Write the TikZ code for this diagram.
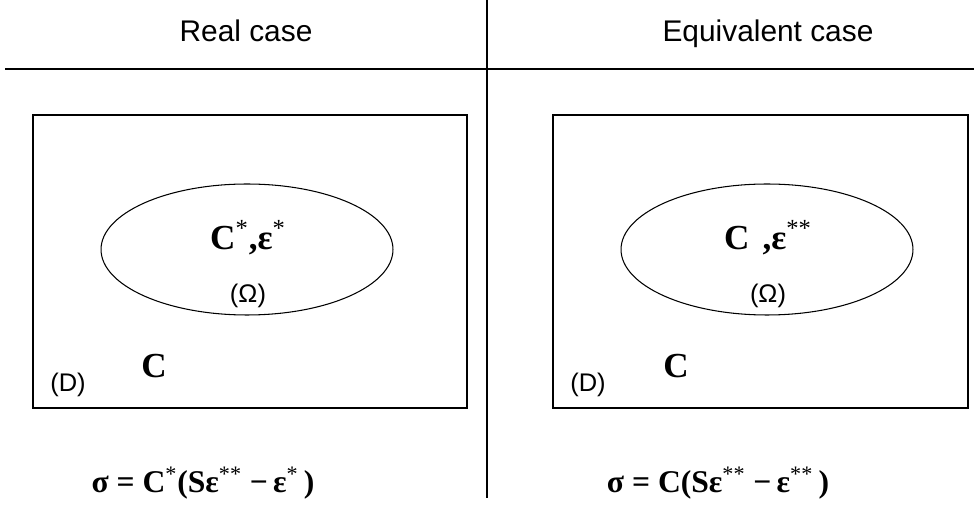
\documentclass[tikz,border=0pt]{standalone}
\usepackage{fontspec}
\setmainfont{Liberation Sans}
\newfontfamily\tnr{Liberation Serif}
\usetikzlibrary{shapes.geometric}
\newcommand\starup[1]{\textsuperscript{\mdseries #1}}
\tikzset{
  heading/.style={anchor=base, font=\fontsize{17}{20}\selectfont},
  region/.style={anchor=base, font=\fontsize{14.5}{17}\selectfont},
  sym/.style={anchor=base, font=\tnr\bfseries\fontsize{20}{24}\selectfont},
  formula/.style={anchor=base, font=\tnr\bfseries\fontsize{18}{22}\selectfont},
  inclusion/.style={draw, ellipse, line width=0.6pt, inner sep=0pt,
    minimum width=5.84cm, minimum height=2.62cm},
  bodybox/.style={draw, line width=0.6pt}
}
\begin{document}
\begin{tikzpicture}[x=0.02cm,y=-0.02cm]
  % Define dimensions
  \def\pagew{974}
  \def\pageh{506}
  \def\midx{487}
  \useasboundingbox (0,0) rectangle (\pagew,\pageh);
  % Draw the table lines
  \draw[line width=1.1pt] (5,69) -- (\pagew,69);
  \draw[line width=0.6pt] (\midx,0) -- (\midx,498);
  % Draw the real case on the left
  \node[heading] (realhead) at (246,42) {Real case};
  \draw[bodybox] (33,115) rectangle (467,408);
  \node[inclusion] (realincl) at (247,249.5) {};
  \node[sym] (realprop) at (248,250) {C\starup{*},ε\starup{*}};
  \node[region] (realomega) at (248,303) {(Ω)};
  \node[region] (realdom) at (68,392) {(D)};
  \node[sym] (realmat) at (154,378) {C};
  \node[formula] (reallaw) at (203,493)
    {σ = C\starup{*}(Sε\starup{**}\ −\,ε\starup{*}\,)};
  % Draw the equivalent case on the right
  \node[heading] (eqhead) at (768,42) {Equivalent case};
  \draw[bodybox] (553,115) rectangle (968,408);
  \node[inclusion] (eqincl) at (767,249.5) {};
  \node[sym] (eqprop) at (768,250) {C\starup{\phantom{*}},ε\starup{**}};
  \node[region] (eqomega) at (768,303) {(Ω)};
  \node[region] (eqdom) at (588,392) {(D)};
  \node[sym] (eqmat) at (676,378) {C};
  \node[formula] (eqlaw) at (718,493)
    {σ = C(Sε\starup{**}\ −\,ε\starup{**}\,)};
\end{tikzpicture}
\end{document}
